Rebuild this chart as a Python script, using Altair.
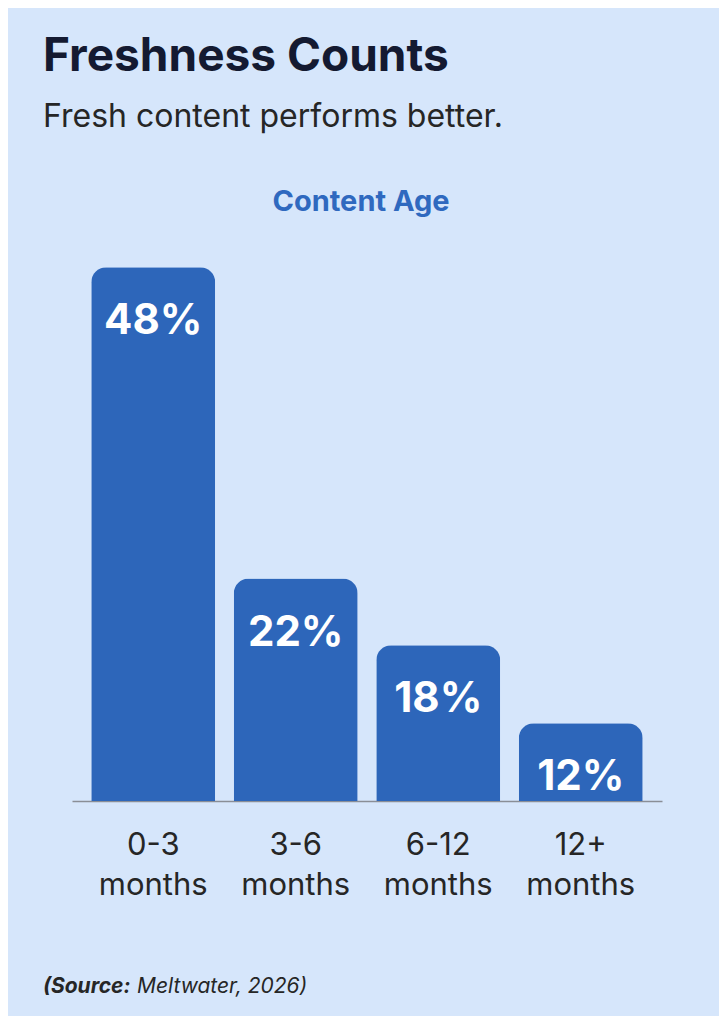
import altair as alt
import pandas as pd

# --- data ---
categories = ["0-3 months", "3-6 months", "6-12 months", "12+ months"]
share_labels = [48, 22, 18, 12]          # printed percentages
bar_heights = [48, 20, 14, 7]            # drawn bar heights (same units as 48%)

title_text = "Freshness Counts"
subtitle_text = "Fresh content performs better."
group_title = "Content Age"
source_bold = "(Source:"
source_rest = "Meltwater, 2026)"

BG = "#d6e6fb"
BAR = "#2d66ba"
FONT = "Inter"

df = pd.DataFrame({
    "age": categories,
    "share": share_labels,
    "height": bar_heights,
})
df["label"] = df["share"].astype(str) + "%"

W, H = 590, 556

x = alt.X(
    "age:N",
    sort=categories,
    scale=alt.Scale(paddingInner=0.13, paddingOuter=0.135),
    axis=alt.Axis(
        title=None,
        labelAngle=0,
        labelExpr="split(datum.label, ' ')",
        labelFont=FONT,
        labelFontSize=31,
        labelColor="#262626",
        labelLineHeight=40,
        labelPadding=29,
        labelBaseline="top",
        ticks=False,
        domainColor="#8a8e96",
        domainWidth=1.5,
    ),
)
y = alt.Y("height:Q", scale=alt.Scale(domain=[0, 50]), axis=None)

base = alt.Chart(df)

bars = base.mark_bar(
    color=BAR, cornerRadiusTopLeft=15, cornerRadiusTopRight=15
).encode(x=x, y=y)

labels = base.mark_text(
    font=FONT, fontSize=42, fontWeight="bold", color="white",
    baseline="alphabetic", dy=67,
).encode(x=x, y=y, text="label:N")

def txt(t, xv, yv, **kw):
    return alt.Chart(pd.DataFrame({"t": [t]})).mark_text(
        font=FONT, align="left", baseline="alphabetic", **kw
    ).encode(x=alt.value(xv), y=alt.value(yv), text="t:N")

title = txt(title_text, -29, -174, fontSize=46, fontWeight="bold", color="#141a31")
subtitle = txt(subtitle_text, -29, -118, fontSize=32, color="#262626")
group = alt.Chart(pd.DataFrame({"t": [group_title]})).mark_text(
    font=FONT, align="center", baseline="alphabetic", fontSize=29,
    fontWeight="bold", color="#2f69bf",
).encode(x=alt.value(289), y=alt.value(-34), text="t:N")
src1 = txt(source_bold, -29, 748, fontSize=21, fontWeight="bold",
           fontStyle="italic", color="#262626")
src2 = txt(source_rest, 65, 748, fontSize=21, fontStyle="italic", color="#262626")

chart = alt.layer(bars, labels, title, subtitle, group, src1, src2).properties(
    width=W, height=H,
    autosize=alt.AutoSizeParams(type="none"),
    padding={"left": 64, "top": 237, "right": 57, "bottom": 215},
    background=BG,
).configure_view(stroke=None)

chart.save("out.html", embed_options={"renderer": "svg", "actions": False})
